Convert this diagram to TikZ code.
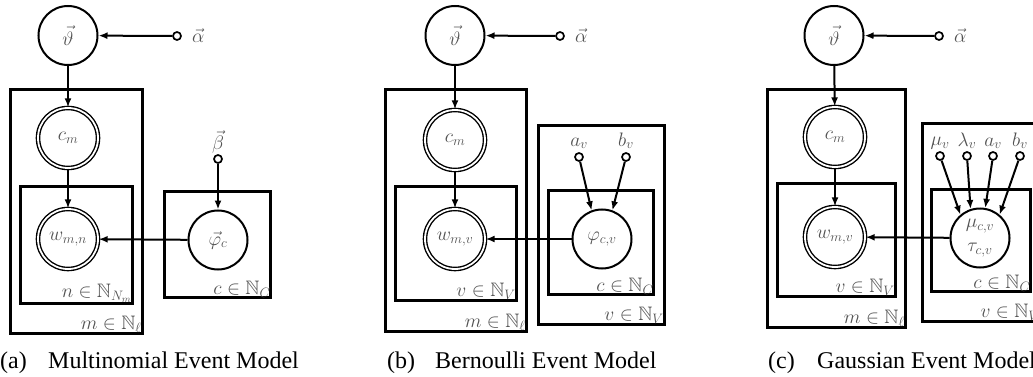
\RequirePackage{fix-cm}
\documentclass[tikz,border=0pt]{standalone}
\usepackage{amssymb}
\usepackage{fontspec}
\newfontfamily\capfont{Liberation Serif}
\usetikzlibrary{arrows.meta}
\definecolor{lblgray}{gray}{0.32}
\newcommand\lblsize{\fontsize{19.5}{24}\selectfont}
\tikzset{
  latent/.style={circle, draw, line width=2pt, minimum size=59pt, inner sep=0pt,
    font=\lblsize, text=lblgray, align=center},
  observed/.style={circle, draw, double, double distance=1.8pt, line width=1.4pt,
    minimum size=60pt, inner sep=0pt, font=\lblsize, text=lblgray},
  hyper/.style={circle, draw, line width=1.7pt, fill=white, minimum size=8pt, inner sep=0pt},
  plate/.style={draw, line width=2.8pt, anchor=north west, inner sep=0pt},
  edge/.style={line width=2pt, -{Latex[length=9pt,width=7pt]}},
  platelabel/.style={anchor=south east, inner sep=2pt, font=\lblsize, text=lblgray},
  hlabel/.style={inner sep=1pt, font=\lblsize, text=lblgray},
  caption/.style={anchor=base west, inner sep=0pt, font=\capfont\fontsize{24}{28}\selectfont},
}
\begin{document}
\begin{tikzpicture}[x=1pt,y=-1pt]
\clip (0,0) rectangle (1033,377);
\fill[white] (0,0) rectangle (1033,377);

% ---------------- (a) Multinomial ----------------
\node[plate, minimum width=132pt, minimum height=244pt] (pma) at (9,88) {};
\node[plate, minimum width=112pt, minimum height=117pt] (pna) at (19,185) {};
\node[plate, minimum width=106pt, minimum height=106pt] (pca) at (163,190) {};
\node[platelabel] (lma) at (pma.south east) {$m\in\mathbb{N}_\ell$};
\node[platelabel] (lna) at (pna.south east) {$n\in\mathbb{N}_{N_m}$};
\node[platelabel, inner sep=1pt] (lca) at (pca.south east) {$c\in\mathbb{N}_C$};

\node[latent] (ta) at (68,35.5) {$\vec{\vartheta}$};
\node[hyper] (aa) at (177,36) {};
\node[hlabel, anchor=west] (aal) at ([xshift=9pt]aa.east) {$\vec{\alpha}$};
\node[observed] (ca) at (68,138) {$c_m$};
\node[observed] (wa) at (68,239) {$w_{m,n}$};
\node[latent] (fa) at (218,240) {$\vec{\varphi}_c$};
\node[hyper] (ba) at (218,159) {};
\node[hlabel, anchor=south] (bal) at ([yshift=0pt]ba.north) {$\vec{\beta}$};

\draw[edge] (aa) -- (ta);
\draw[edge] (ta) -- (ca);
\draw[edge] (ca) -- (wa);
\draw[edge] (ba) -- (fa);
\draw[edge] (fa) -- (wa);

% ---------------- (b) Bernoulli ----------------
\node[plate, minimum width=141pt, minimum height=242pt] (pmb) at (384,88) {};
\node[plate, minimum width=121pt, minimum height=114pt] (pvb) at (394,185) {};
\node[plate, minimum width=126pt, minimum height=199pt] (pvb2) at (537,124) {};
\node[plate, minimum width=105pt, minimum height=104pt] (pcb) at (547,189) {};
\node[platelabel] (lmb) at (pmb.south east) {$m\in\mathbb{N}_\ell$};
\node[platelabel] (lvb) at (pvb.south east) {$v\in\mathbb{N}_V$};
\node[platelabel] (lvb2) at (pvb2.south east) {$v\in\mathbb{N}_V$};
\node[platelabel, inner sep=1pt] (lcb) at (pcb.south east) {$c\in\mathbb{N}_C$};

\node[latent] (tb) at (455,35.5) {$\vec{\vartheta}$};
\node[hyper] (ab) at (560,36) {};
\node[hlabel, anchor=west] (abl) at ([xshift=9pt]ab.east) {$\vec{\alpha}$};
\node[observed] (cb) at (455,140) {$c_m$};
\node[observed] (wb) at (455,239) {$w_{m,v}$};
\node[latent] (fb) at (602,239) {$\varphi_{c,v}$};
\node[hyper] (avb) at (579,157) {};
\node[hyper] (bvb) at (626,157) {};
\node[hlabel, anchor=south] (avbl) at ([yshift=2pt]avb.north) {$a_v$};
\node[hlabel, anchor=south] (bvbl) at ([yshift=2pt]bvb.north) {$b_v$};

\draw[edge] (ab) -- (tb);
\draw[edge] (tb) -- (cb);
\draw[edge] (cb) -- (wb);
\draw[edge] (avb) -- (fb.110);
\draw[edge] (bvb) -- (fb.70);
\draw[edge] (fb) -- (wb);

% ---------------- (c) Gaussian ----------------
\node[plate, minimum width=138pt, minimum height=238pt] (pmc) at (766,88) {};
\node[plate, minimum width=118pt, minimum height=113pt] (pvc) at (776,182) {};
\node[plate, minimum width=118pt, minimum height=198pt] (pvc2) at (921,122) {};
\node[plate, minimum width=99pt, minimum height=102pt] (pcc) at (930,188) {};
\node[platelabel] (lmc) at (pmc.south east) {$m\in\mathbb{N}_\ell$};
\node[platelabel] (lvc) at (pvc.south east) {$v\in\mathbb{N}_V$};
\node[platelabel] (lvc2) at (pvc2.south east) {$v\in\mathbb{N}_V$};
\node[platelabel, inner sep=1pt] (lcc) at (pcc.south east) {$c\in\mathbb{N}_C$};

\node[latent] (tc) at (834,35.5) {$\vec{\vartheta}$};
\node[hyper] (ac) at (939,36) {};
\node[hlabel, anchor=west] (acl) at ([xshift=9pt]ac.east) {$\vec{\alpha}$};
\node[observed] (cc) at (835,137) {$c_m$};
\node[observed] (wc) at (835,237) {$w_{m,v}$};
\node[latent] (gc) at (980,238) {$\mu_{c,v}$\\$\tau_{c,v}$};
\node[hyper] (muc) at (940,156) {};
\node[hyper] (lac) at (967,156) {};
\node[hyper] (avc) at (993,156) {};
\node[hyper] (bvc) at (1020,156) {};
\node[hlabel, anchor=south] (mucl) at ([yshift=1pt]muc.north) {$\mu_v$};
\node[hlabel, anchor=south] (lacl) at ([yshift=1pt]lac.north) {$\lambda_v$};
\node[hlabel, anchor=south] (avcl) at ([yshift=1pt]avc.north) {$a_v$};
\node[hlabel, anchor=south] (bvcl) at ([yshift=1pt]bvc.north) {$b_v$};

\draw[edge] (ac) -- (tc);
\draw[edge] (tc) -- (cc);
\draw[edge] (cc) -- (wc);
\draw[edge] (muc) -- (gc.130);
\draw[edge] (lac) -- (gc.108);
\draw[edge] (avc) -- (gc.80);
\draw[edge] (bvc) -- (gc.50);
\draw[edge] (gc) -- (wc);

% ---------------- captions ----------------
\node[caption] (capa) at (0,368) {\makebox[48pt][l]{(a)}Multinomial Event Model};
\node[caption] (capb) at (387,368) {\makebox[48pt][l]{(b)}Bernoulli Event Model};
\node[caption] (capc) at (768,368) {\makebox[49pt][l]{(c)}Gaussian Event Model};
\end{tikzpicture}
\end{document}
